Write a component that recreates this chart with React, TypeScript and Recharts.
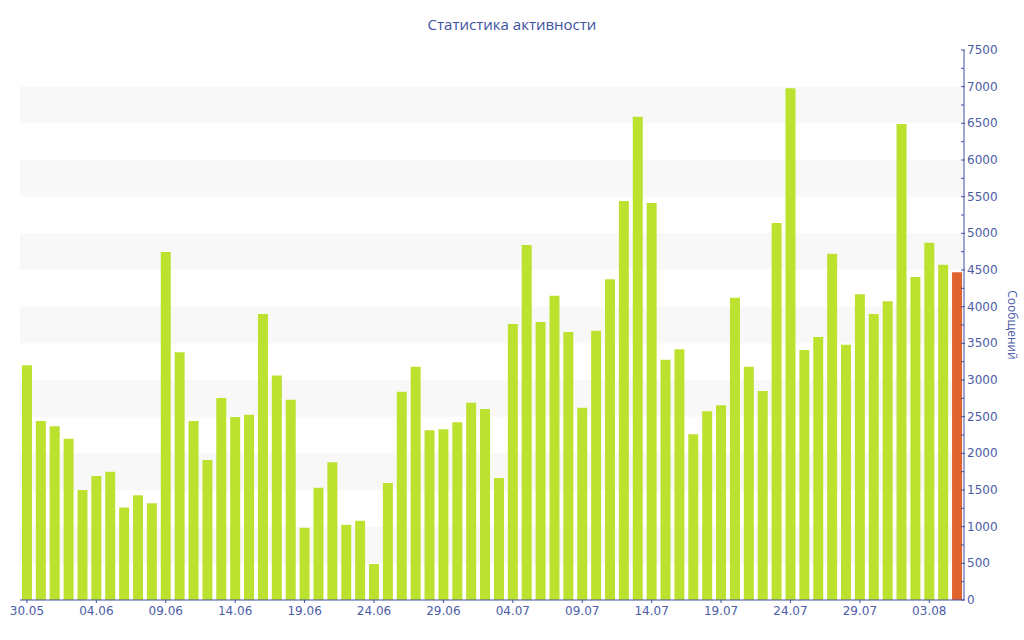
import React from 'react';
import { BarChart, Bar, XAxis, YAxis, ReferenceArea, Cell } from 'recharts';

const days = [
  '30.05', '31.05', '01.06', '02.06', '03.06', '04.06', '05.06', '06.06', '07.06', '08.06',
  '09.06', '10.06', '11.06', '12.06', '13.06', '14.06', '15.06', '16.06', '17.06', '18.06',
  '19.06', '20.06', '21.06', '22.06', '23.06', '24.06', '25.06', '26.06', '27.06', '28.06',
  '29.06', '30.06', '01.07', '02.07', '03.07', '04.07', '05.07', '06.07', '07.07', '08.07',
  '09.07', '10.07', '11.07', '12.07', '13.07', '14.07', '15.07', '16.07', '17.07', '18.07',
  '19.07', '20.07', '21.07', '22.07', '23.07', '24.07', '25.07', '26.07', '27.07', '28.07',
  '29.07', '30.07', '31.07', '01.08', '02.08', '03.08', '04.08', '05.08',
];

const messages = [
  3200, 2440, 2370, 2200, 1500, 1690, 1750, 1260, 1430, 1320,
  4745, 3380, 2440, 1910, 2755, 2495, 2525, 3900, 3060, 2730,
  985, 1530, 1880, 1025, 1080, 490, 1595, 2840, 3180, 2315,
  2330, 2425, 2690, 2605, 1665, 3765, 4840, 3790, 4150, 3655,
  2620, 3670, 4375, 5440, 6590, 5415, 3275, 3420, 2260, 2575,
  2655, 4120, 3180, 2850, 5140, 6980, 3410, 3585, 4720, 3480,
  4170, 3900, 4075, 6490, 4405, 4870, 4570, 4470,
];

const yTicks = [
  0, 250, 500, 750, 1000, 1250, 1500, 1750, 2000, 2250, 2500, 2750, 3000, 3250, 3500, 3750,
  4000, 4250, 4500, 4750, 5000, 5250, 5500, 5750, 6000, 6250, 6500, 6750, 7000, 7250, 7500,
];

// shaded horizontal stripes behind the bars
const bands = [
  [500, 1000], [1500, 2000], [2500, 3000], [3500, 4000], [4500, 5000], [5500, 6000], [6500, 7000],
];

const data = days.map((day, i) => ({ day, value: messages[i] }));

const AXIS = '#3f51a0';
const TEXT = '#4b5ca6';
const GREEN = '#bde12f';
const ORANGE = '#e1632d';

const YTick = (props: any) => {
  const { x, y, payload } = props;
  const major = payload.value % 500 === 0;
  return (
    <g>
      <line x1={x - 3} x2={major ? x + 1 : x} y1={y} y2={y} stroke={AXIS} strokeWidth={1} />
      {major && (
        <text x={x + 3} y={y} dy={4} fill={TEXT} fontSize={12} fontFamily="DejaVu Sans">
          {payload.value}
        </text>
      )}
    </g>
  );
};

const YLabel = (props: any) => {
  const { x, y, width, height } = props.viewBox;
  const cx = x + width - 12;
  const cy = y + height / 2;
  return (
    <text
      x={cx}
      y={cy}
      transform={`rotate(90 ${cx} ${cy})`}
      textAnchor="middle"
      dominantBaseline="central"
      fill={TEXT}
      fontSize={12}
      fontFamily='"Open Sans", sans-serif'
    >
      Сообщений
    </text>
  );
};

export default function App() {
  return (
    <div style={{ position: 'absolute', left: 0, top: 0, width: 1024, height: 640, background: '#fff' }}>
      <div
        style={{
          position: 'absolute',
          top: 14,
          left: 0,
          width: 1024,
          textAlign: 'center',
          fontFamily: '"Open Sans", sans-serif',
          fontSize: 15,
          color: '#3d52a0',
        }}
      >
        Статистика активности
      </div>
      <BarChart
        width={1024}
        height={640}
        data={data}
        margin={{ top: 50, right: 0, left: 20, bottom: 0 }}
        barCategoryGap="14%"
      >
        {bands.map(([a, b]) => (
          <ReferenceArea key={a} yAxisId="r" y1={a} y2={b} fill="#f8f8f8" fillOpacity={1} stroke="none" />
        ))}
        <XAxis
          dataKey="day"
          interval={4}
          height={40}
          axisLine={{ stroke: AXIS }}
          tickLine={{ stroke: AXIS }}
          tickSize={3}
          tickMargin={3}
          tick={{ fill: TEXT, fontSize: 12, fontFamily: 'DejaVu Sans' }}
        />
        <YAxis
          yAxisId="r"
          orientation="right"
          width={60}
          domain={[0, 7500]}
          ticks={yTicks}
          interval={0}
          axisLine={{ stroke: AXIS }}
          tickLine={false}
          tickSize={0}
          tickMargin={0}
          tick={<YTick />}
          label={{ content: (p: any) => <YLabel {...p} /> }}
        />
        <Bar yAxisId="r" dataKey="value" fill={GREEN} isAnimationActive={false}>
          {data.map((d, i) => (
            <Cell key={d.day} fill={i === data.length - 1 ? ORANGE : GREEN} />
          ))}
        </Bar>
      </BarChart>
    </div>
  );
}
